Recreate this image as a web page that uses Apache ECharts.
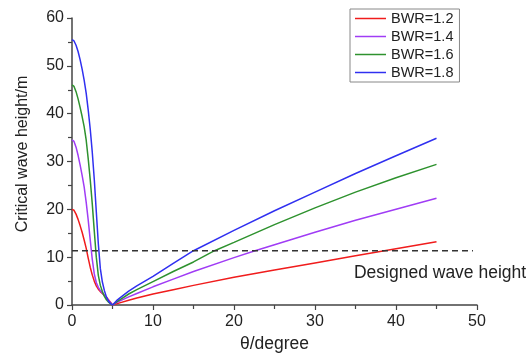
<!DOCTYPE html>
<html>
<head>
<meta charset="utf-8">
<script src="https://cdn.jsdelivr.net/npm/echarts@6/dist/echarts.min.js"></script>
<style>html,body{margin:0;padding:0;background:#fff}#c{width:528px;height:353px}</style>
</head>
<body>
<div id="c"></div>
<script>
var seriesNames = ['BWR=1.2', 'BWR=1.4', 'BWR=1.6', 'BWR=1.8'];
var dataRed = [[0,20],[0.25,19.8],[0.5,19.0],[0.75,17.9],[1,16.6],[1.25,15.2],[1.5,13.6],[1.75,11.9],[2,9.8],[2.25,7.9],[2.5,6.3],[2.75,5.0],[3,4.0],[3.25,3.3],[3.5,2.8],[3.75,2.4],[4,2.0],[4.25,1.6],[4.5,1.1],[4.75,0.6],[5,0],
  [5.5,0.25],[6,0.5],[7,1.0],[8,1.45],[10,2.3],[12.5,3.2],[15,4.1],[20,5.8],[25,7.3],[30,8.8],[35,10.3],[40,11.75],[45,13.2]];
var dataPurple = [[0,34.5],[0.25,34.2],[0.5,33.0],[0.75,31.3],[1,29.3],[1.25,27.1],[1.5,24.7],[1.75,21.5],[2,17.8],[2.25,13.6],[2.5,9.6],[2.75,6.5],[3,4.7],[3.25,3.7],[3.5,3.0],[3.75,2.5],[4,2.0],[4.25,1.5],[4.5,1.0],[4.75,0.5],[5,0],
  [5.5,0.5],[6,0.9],[7,1.7],[8,2.4],[10,3.8],[12.5,5.4],[15,7.0],[20,9.9],[22.6,11.35],[25,12.6],[30,15.2],[35,17.7],[40,20.0],[45,22.3]];
var dataGreen = [[0,46],[0.25,45.7],[0.5,44.6],[0.75,43.1],[1,41.3],[1.25,39.4],[1.5,37.3],[1.75,34.5],[2,30.6],[2.25,26.2],[2.5,21.2],[2.75,15.5],[3,10.0],[3.25,6.2],[3.5,4.1],[3.75,2.8],[4,1.8],[4.25,1.1],[4.5,0.6],[4.75,0.3],[5,0],
  [5.5,0.65],[6,1.2],[7,2.3],[8,3.2],[10,4.9],[12.5,7.0],[15,9.0],[17.6,11.35],[20,13.1],[25,16.8],[30,20.3],[35,23.6],[40,26.6],[45,29.4]];
var dataBlue = [[0,55.5],[0.25,55.2],[0.5,54.3],[0.75,53.0],[1,51.3],[1.25,49.3],[1.5,47.0],[1.75,44.3],[2,40.8],[2.25,36.8],[2.5,32.0],[2.75,26.3],[3,19.5],[3.25,12.8],[3.5,7.6],[3.75,4.8],[4,3.0],[4.25,1.7],[4.5,0.8],[4.75,0.3],[5,0],
  [5.5,0.9],[6,1.6],[7,2.9],[8,4.0],[10,6.0],[12.5,8.7],[15,11.35],[20,15.6],[25,19.7],[30,23.6],[35,27.5],[40,31.2],[45,34.85]];
var designX = [0, 49.5];
var designY = [11.35, 11.35];
var designLabel = 'Designed wave height';
var colors = ['#f01c1c', '#a03cf5', '#2e922e', '#3030f0'];

var chart = echarts.init(document.getElementById('c'));
var mk = function(i, d) {
  return { name: seriesNames[i], type: 'line', data: d, showSymbol: false, smooth: false,
    lineStyle: { color: colors[i], width: 1.5 }, itemStyle: { color: colors[i] } };
};
chart.setOption({
  animation: false,
  textStyle: { fontFamily: 'Liberation Sans, Arial, sans-serif' },
  grid: { left: 72, right: 51, top: 18, bottom: 48, containLabel: false, outerBoundsMode: 'none' },
  legend: {
    orient: 'vertical', left: 350, top: 9, width: 111,
    data: seriesNames,
    icon: 'rect', itemWidth: 31, itemHeight: 1.5, itemGap: 3,
    textStyle: { fontSize: 14.5, color: '#222' },
    borderColor: '#888', borderWidth: 1, padding: [2, 6, 2, 5],
    backgroundColor: '#fff'
  },
  xAxis: {
    type: 'value', min: 0, max: 50, interval: 10,
    name: 'θ/degree', nameLocation: 'middle', nameGap: 29,
    nameTextStyle: { fontSize: 17.5, color: '#222' },
    axisLine: { lineStyle: { color: '#444', width: 1.5 } },
    axisTick: { inside: false, length: 5, lineStyle: { color: '#444', width: 1.2 } },
    minorTick: { show: true, splitNumber: 2, length: 4, lineStyle: { color: '#444', width: 1.2 } },
    axisLabel: { fontSize: 16, color: '#222', margin: 9 },
    splitLine: { show: false }
  },
  yAxis: {
    type: 'value', min: 0, max: 60, interval: 10,
    name: 'Critical wave height/m', nameLocation: 'middle', nameGap: 41,
    nameTextStyle: { fontSize: 16, color: '#222', padding: [0, 0, 0, 15] },
    axisLine: { show: true, lineStyle: { color: '#444', width: 1.5 } },
    axisTick: { show: true, inside: false, length: 5, lineStyle: { color: '#444', width: 1.2 } },
    minorTick: { show: true, splitNumber: 2, length: 4, lineStyle: { color: '#444', width: 1.2 } },
    axisLabel: { fontSize: 16, color: '#222', margin: 8 },
    splitLine: { show: false }
  },
  series: [
    mk(0, dataRed), mk(1, dataPurple), mk(2, dataGreen), mk(3, dataBlue),
    { name: 'design', type: 'line', showSymbol: false, silent: true,
      data: designX.map(function(x, i) { return [x, designY[i]]; }),
      lineStyle: { color: '#333', width: 1.5, type: [6, 4] },
      endLabel: { show: true, formatter: designLabel, fontSize: 17.5, color: '#222', offset: [-127, 22] }
    }
  ]
});
</script>
</body>
</html>
